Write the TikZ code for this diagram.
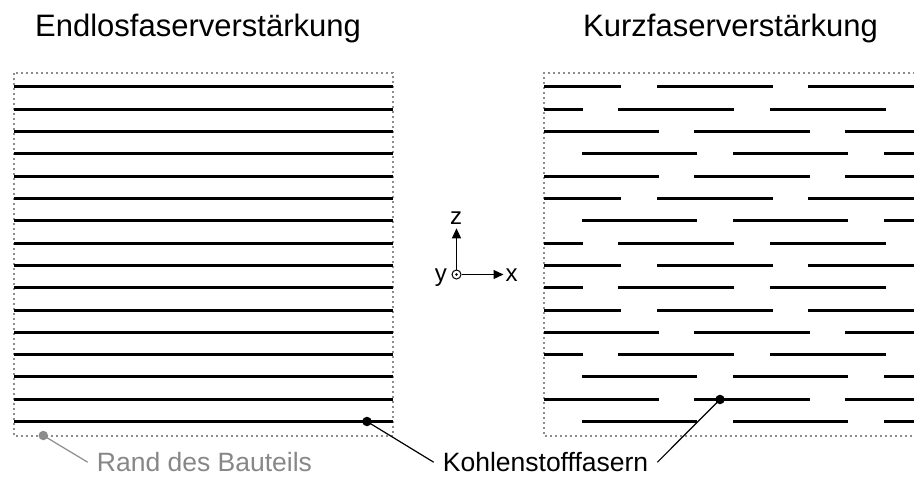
\documentclass[tikz,border=0pt]{standalone}
\usepackage{fontspec}
\setmainfont{Liberation Sans}
\usetikzlibrary{arrows.meta}

\definecolor{rimgray}{RGB}{140,140,140}
\definecolor{labelgray}{RGB}{135,135,135}

% fibre segments of the short-fibre pattern (x from/to)
\def\patA{544/621, 657/773, 808/924}
\def\patB{544/583, 618/734, 770/886}
\def\patC{544/659, 694/810, 845/961}
\def\patD{582/697, 733/848, 884/1000}

\begin{document}
\begin{tikzpicture}[x=1pt,y=-1pt,
  fiber/.style={line width=3pt,line cap=butt},
  border/.style={rimgray,line width=2pt,dash pattern=on 2pt off 3pt},
  leader/.style={line width=1.2pt},
  fiberdot/.style={circle,fill=black,inner sep=0pt,minimum size=9.5pt},
  rimdot/.style={circle,fill=rimgray,inner sep=0pt,minimum size=9.5pt},
  title/.style={inner sep=0pt,font=\fontsize{31}{34}\selectfont},
  callout/.style={inner xsep=9pt,inner ysep=0pt,font=\fontsize{26.5}{30}\selectfont},
  axislabel/.style={inner sep=0pt,font=\fontsize{24}{28}\selectfont},
  axisarrow/.style={line width=1.1pt,-{Triangle[length=10pt,width=9pt]}}]
\useasboundingbox (0,0) rectangle (914,477);

% titles
\node[title,anchor=base west] (tl) at (35,36.7) {Endlosfaserverstärkung};
\node[title,anchor=base west] (tr) at (583,36.7) {Kurzfaserverstärkung};

% continuous fibres
\draw[border] (14,73) rectangle (393,436);
\foreach \i in {1,...,16}{
  \pgfmathsetmacro\yy{floor(86.7+22.33*(\i-1))+0.5}
  \draw[fiber] (14,\yy) -- (393,\yy);
}

% short fibres
\draw[border] (920,73) -- (544,73) -- (544,436) -- (920,436);
\begin{scope}
\clip (540,60) rectangle (914,450);
\foreach \i/\p in {1/A,2/B,3/C,4/D,5/C,6/A,7/D,8/B,9/A,10/B,11/A,12/C,13/B,14/D,15/C,16/D}{
  \pgfmathsetmacro\yy{floor(86.7+22.33*(\i-1))+0.5}
  \expandafter\let\expandafter\curpat\csname pat\p\endcsname
  \foreach \a/\b in \curpat {\draw[fiber] (\a,\yy) -- (\b,\yy);}
}
\end{scope}

% coordinate system
\node[circle,draw,line width=1pt,inner sep=0pt,minimum size=9pt] (o) at (456.5,274.5) {};
\fill (o.center) circle (1.4pt);
\coordinate (zt) at (456.5,228.3);
\coordinate (xt) at (503.5,274.5);
\draw[axisarrow] (o.north) -- (zt);
\draw[axisarrow] (o.east) -- (xt);
\node[axislabel,anchor=base] (zl) at (456,224.3) {z};
\node[axislabel,anchor=base east] (yl) at (447,281) {y};
\node[axislabel,anchor=base west] (xl) at (505.5,281) {x};

% callouts
\node[rimdot] (rd) at (43.3,435.5) {};
\node[callout,anchor=base west,text=labelgray] (rand) at (87.7,471.7) {Rand des Bauteils};
\draw[leader,rimgray] (rd.center) -- (rand.west);

\node[fiberdot] (fd1) at (367,421.5) {};
\node[fiberdot] (fd2) at (720,399.5) {};
\node[callout,anchor=base west] (kf) at (433.7,471.7) {Kohlenstofffasern};
\draw[leader] (fd1.center) -- (kf.west);
\draw[leader] (fd2.center) -- (kf.east);
\end{tikzpicture}
\end{document}
